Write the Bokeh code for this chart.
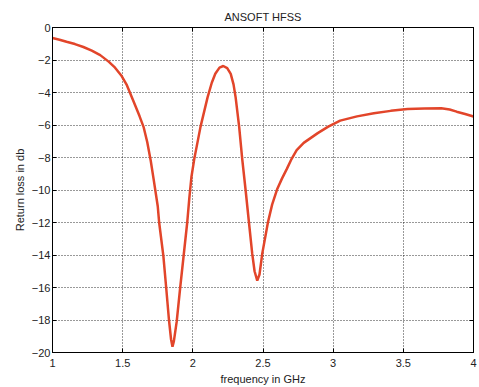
from bokeh.plotting import figure
from bokeh.models import FixedTicker, Range1d, LinearAxis
from bokeh.embed import file_html
from bokeh.resources import INLINE

freq = [1.00, 1.05, 1.10, 1.16, 1.22, 1.28, 1.34, 1.40, 1.44, 1.49, 1.53, 1.58, 1.62,
        1.65, 1.675, 1.70, 1.72, 1.75, 1.76, 1.79, 1.81, 1.83, 1.845, 1.855, 1.865, 1.885,
        1.91, 1.935, 1.96, 1.975, 1.99, 2.01, 2.055, 2.105, 2.135, 2.16, 2.19, 2.217,
        2.245, 2.27, 2.29, 2.305, 2.33, 2.352, 2.376, 2.40, 2.423, 2.44, 2.459, 2.475,
        2.495, 2.535, 2.565, 2.60, 2.635, 2.67, 2.70, 2.74, 2.79, 2.89, 2.965, 3.05,
        3.17, 3.29, 3.41, 3.53, 3.65, 3.77, 3.83, 3.88, 3.94, 4.00]
return_loss = [-0.65, -0.75, -0.88, -1.02, -1.20, -1.42, -1.70, -2.10, -2.42, -2.95, -3.55,
               -4.60, -5.45, -6.15, -7.05, -8.2, -9.3, -11.0, -12.0, -14.05, -16.0, -18.0,
               -19.2, -19.65, -19.3, -18.1, -16.0, -14.0, -12.0, -10.5, -9.2, -8.1, -6.1,
               -4.3, -3.4, -2.85, -2.47, -2.37, -2.5, -2.85, -3.5, -4.3, -6.1, -8.1, -10.0,
               -12.0, -13.9, -15.0, -15.58, -15.2, -13.9, -12.0, -10.9, -9.97, -9.3, -8.7,
               -8.15, -7.55, -7.1, -6.5, -6.1, -5.73, -5.47, -5.28, -5.13, -5.02, -4.98,
               -4.97, -5.05, -5.18, -5.32, -5.48]

x_ticks = [1, 1.5, 2, 2.5, 3, 3.5, 4]
y_ticks = [-20, -18, -16, -14, -12, -10, -8, -6, -4, -2, 0]

FONT = "Liberation Sans"
TXT = "#222222"

p = figure(width=478, height=387, output_backend="svg", toolbar_location=None,
           title="ANSOFT HFSS", x_range=Range1d(1, 4), y_range=Range1d(-20, 0),
           min_border_left=52, min_border_right=5, min_border_top=27, min_border_bottom=33)

p.line(freq, return_loss, line_color="#e2452a", line_width=2.5)

p.title.align = "center"
p.title.text_font = FONT
p.title.text_font_size = "11px"
p.title.text_font_style = "normal"
p.title.text_color = TXT
p.title.standoff = 10

p.xaxis.ticker = FixedTicker(ticks=x_ticks)
p.yaxis.ticker = FixedTicker(ticks=y_ticks)
p.xaxis.axis_label = "frequency in GHz"
p.yaxis.axis_label = "Return loss in db"

for ax in (p.xaxis, p.yaxis):
    ax.major_label_text_font = FONT
    ax.major_label_text_font_size = "11px"
    ax.major_label_text_color = TXT
    ax.axis_label_text_font = FONT
    ax.axis_label_text_font_size = "11px"
    ax.axis_label_text_font_style = "normal"
    ax.axis_label_text_color = TXT
    ax.major_tick_in = 4
    ax.major_tick_out = 0
    ax.minor_tick_line_color = None
    ax.axis_line_color = "black"
    ax.major_tick_line_color = "black"

p.xaxis.major_label_standoff = 6
p.xaxis.axis_label_standoff = 3
p.yaxis.major_label_standoff = 2
p.yaxis.axis_label_standoff = 3

# box ticks on the right and top, without labels
right_ax = LinearAxis(ticker=FixedTicker(ticks=y_ticks), major_label_text_color=None,
                      major_label_text_font_size="1px", major_label_standoff=0,
                      major_tick_in=4, major_tick_out=0,
                      minor_tick_line_color=None, axis_line_color="black")
top_ax = LinearAxis(ticker=FixedTicker(ticks=x_ticks), major_label_text_color=None,
                    major_label_text_font_size="1px", major_label_standoff=0,
                    major_tick_in=4, major_tick_out=0,
                    minor_tick_line_color=None, axis_line_color="black")
p.add_layout(right_ax, "right")
p.add_layout(top_ax, "above")

for g in (p.xgrid, p.ygrid):
    g.grid_line_color = "black"
    g.grid_line_dash = "1 2"
    g.grid_line_alpha = 0.8
    g.grid_line_width = 1

p.outline_line_color = "black"
p.outline_line_width = 1
p.background_fill_color = "white"
p.border_fill_color = "white"

open("out.html", "w").write(file_html(p, INLINE))
